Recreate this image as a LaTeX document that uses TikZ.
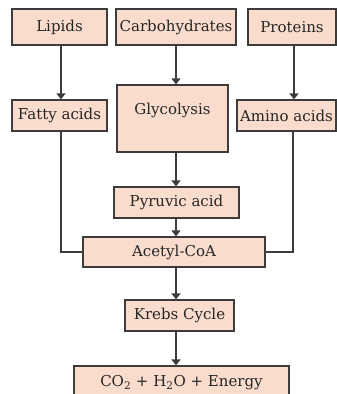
\documentclass[tikz,border=0pt]{standalone}
\usepackage{fontspec}
\setmainfont{DejaVu Serif}
\usetikzlibrary{arrows.meta}
\definecolor{boxfill}{RGB}{250,220,205}
\definecolor{edge}{RGB}{60,60,60}
\tikzset{
  box/.style={draw=edge, fill=boxfill, line width=1.2pt, inner sep=0pt,
    font=\fontsize{15}{17}\selectfont, text=black!85},
  arr/.style={draw=edge, line width=1.3pt, -{Triangle[length=6pt,width=9pt]}},
  ln/.style={draw=edge, line width=1.3pt}
}
\begin{document}
\begin{tikzpicture}[x=1pt,y=-1pt]
\useasboundingbox (0,0) rectangle (337,394);
\node[box, minimum width=95pt, minimum height=36pt] (lip) at (59.5,27) {Lipids};
\node[box, minimum width=120pt, minimum height=36pt] (carb) at (176,27) {Carbohydrates};
\node[box, minimum width=88pt, minimum height=36pt] (prot) at (292,27) {Proteins};
\node[box, minimum width=95pt, minimum height=31pt] (fat) at (59.5,115.5) {Fatty acids};
\node[box, minimum width=111pt, minimum height=67pt, text depth=38pt, text height=29pt] (gly) at (172.5,118.5) {Glycolysis};
\node[box, minimum width=99pt, minimum height=31pt] (amino) at (286.5,115.5) {Amino acids};
\node[box, minimum width=125pt, minimum height=31pt] (pyr) at (176.5,202.5) {Pyruvic acid};
\node[box, minimum width=182pt, minimum height=30pt] (acetyl) at (174,252) {Acetyl-CoA};
\node[box, minimum width=109pt, minimum height=31pt] (krebs) at (179.5,315.5) {Krebs Cycle};
\node[box, minimum width=215pt, minimum height=34pt] (co2) at (181.5,383) {CO\textsubscript{2} + H\textsubscript{2}O + Energy};
\draw[arr] (lip.south -| 61,0) -- (fat.north -| 61,0);
\draw[arr] (carb.south) -- (carb.south |- gly.north);
\draw[arr] (prot.south -| 294,0) -- (amino.north -| 294,0);
\draw[arr] (gly.south -| 176,0) -- (pyr.north -| 176,0);
\draw[arr] (pyr.south -| 176,0) -- (acetyl.north -| 176,0);
\draw[arr] (acetyl.south -| 176,0) -- (krebs.north -| 176,0);
\draw[arr] (krebs.south -| 176,0) -- (co2.north -| 176,0);
\draw[ln] (fat.south -| 61,0) |- (acetyl.west);
\draw[ln] (amino.south -| 293,0) |- (acetyl.east);
\end{tikzpicture}
\end{document}
